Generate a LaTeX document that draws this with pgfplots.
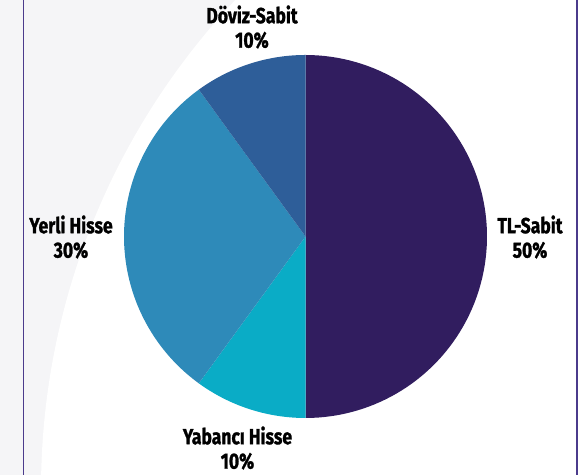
\documentclass[border=0pt]{standalone}
\usepackage{pgfplots}
\pgfplotsset{compat=1.18}
\usepackage{fontspec}
\setmainfont{Fira Sans}
\newfontfamily\labfont{Fira Sans}[FakeStretch=0.8, FakeBold=1.2]
\definecolor{cTL}{HTML}{311D5F}
\definecolor{cYab}{HTML}{0AACC6}
\definecolor{cYer}{HTML}{2E8AB9}
\definecolor{cDov}{HTML}{2E5E99}
\definecolor{bggray}{HTML}{F5F5F7}
\definecolor{linecol}{HTML}{4B3B8C}
% shares in percent, clockwise from 12 o'clock
\def\pTL{50}
\def\pYab{10}
\def\pYer{30}
\def\pDov{10}
\pgfmathsetmacro\aA{90}
\pgfmathsetmacro\aB{\aA-3.6*\pTL}
\pgfmathsetmacro\aC{\aB-3.6*\pYab}
\pgfmathsetmacro\aD{\aC-3.6*\pYer}
\pgfmathsetmacro\aE{\aD-3.6*\pDov}
\begin{document}
\begin{tikzpicture}[x=1bp,y=1bp]
\useasboundingbox (0,0) rectangle (581,475);
\fill[bggray] (0,0) rectangle (581,475);
\begin{scope}
\clip (0,0) rectangle (581,475);
\fill[white] (756,-15) circle (715);
\fill[white] (577,0) rectangle (581,475);
\end{scope}
\draw[linecol, line width=1.5bp] (23.5,0) -- (23.5,475);
\draw[linecol, line width=1.5bp] (577,0) -- (577,475);
\begin{axis}[at={(305.5bp,238.5bp)}, anchor=origin, x=181.5bp, y=181.5bp,
  xmin=-1, xmax=1, ymin=-1, ymax=1, hide axis, clip=false, samples=90]
\addplot[fill=cTL, draw=none, domain=\aB:\aA] ({cos(x)},{sin(x)}) -- (0,0) -- cycle;
\addplot[fill=cYab, draw=none, domain=\aC:\aB] ({cos(x)},{sin(x)}) -- (0,0) -- cycle;
\addplot[fill=cYer, draw=none, domain=\aD:\aC] ({cos(x)},{sin(x)}) -- (0,0) -- cycle;
\addplot[fill=cDov, draw=none, domain=\aE:\aD] ({cos(x)},{sin(x)}) -- (0,0) -- cycle;
\end{axis}
\tikzset{lab/.style={align=center, font=\labfont\bfseries\fontsize{22}{24.5}\selectfont, inner sep=0pt}}
\node[lab] at (252,448) {Döviz-Sabit\\10\%};
\node[lab] at (71,238) {Yerli Hisse\\30\%};
\node[lab] at (530,238) {TL-Sabit\\50\%};
\node[lab] at (237.5,27) {Yabancı Hisse\\10\%};
\end{tikzpicture}
\end{document}
